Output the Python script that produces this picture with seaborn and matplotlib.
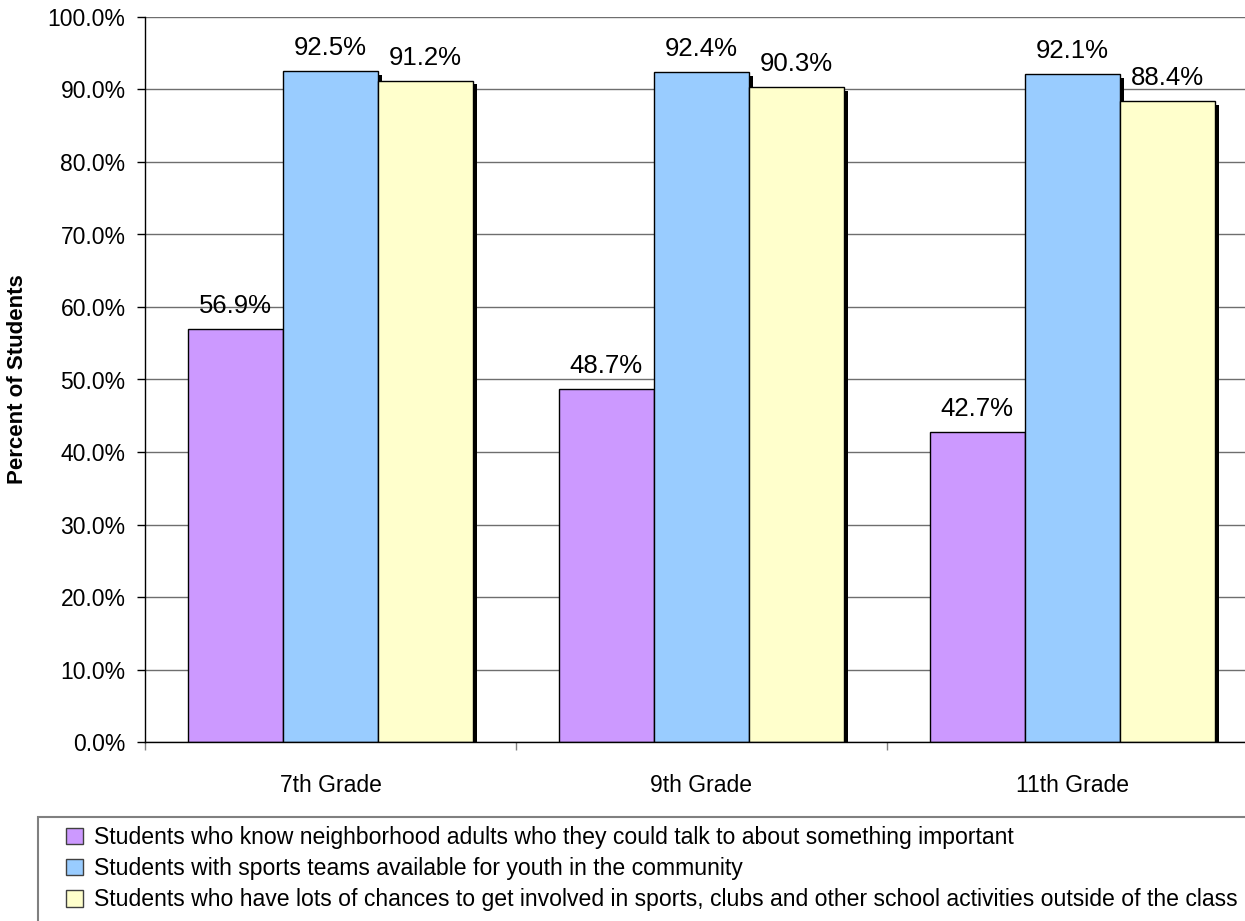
import matplotlib
matplotlib.use('Agg')
import matplotlib.pyplot as plt
import matplotlib.patheffects as pe
from matplotlib.patches import Patch, Rectangle
from matplotlib.ticker import FixedLocator
import numpy as np
import pandas as pd
import seaborn as sns

# ------------------------------------------------------------------
# Data
# ------------------------------------------------------------------
grades = ['7th Grade', '9th Grade', '11th Grade']
series_names = [
    'Students who know neighborhood adults who they could talk to about something important',
    'Students with sports teams available for youth in the community',
    'Students who have lots of chances to get involved in sports, clubs and other school activities outside of the class',
]
neighborhood_adults = [56.9, 48.7, 42.7]
sports_teams = [92.5, 92.4, 92.1]
school_activities = [91.2, 90.3, 88.4]
colors = ['#CC99FF', '#99CCFF', '#FFFFCC']

df = pd.DataFrame({
    'grade': grades * 3,
    'series': [s for s in series_names for _ in grades],
    'value': neighborhood_adults + sports_teams + school_activities,
})

sns.set_theme(style='white')
plt.rcParams['font.family'] = ['Liberation Sans', 'DejaVu Sans']
plt.rcParams['text.color'] = 'black'
plt.rcParams['xtick.color'] = 'black'
plt.rcParams['ytick.color'] = 'black'
plt.rcParams['axes.labelcolor'] = 'black'

fig = plt.figure(figsize=(12.45, 9.21), dpi=100)
ax = fig.add_axes([145 / 1245, 1 - 742 / 921, (1258 - 145) / 1245, 725 / 921])

sns.barplot(
    data=df, x='grade', y='value', hue='series',
    order=grades, hue_order=series_names,
    palette=colors, saturation=1, width=0.77, gap=0,
    edgecolor='black', linewidth=1.0,
    legend=False, ax=ax,
)

# drop shadow on each bar (only visible on the right-hand side)
shadow = [pe.SimplePatchShadow(offset=(2.5, -2.5), shadow_rgbFace='black', alpha=1.0),
          pe.Normal()]
for bar in ax.patches:
    bar.set_path_effects(shadow)

for cont in ax.containers:
    ax.bar_label(cont, labels=[f'{v:.1f}%' for v in cont.datavalues],
                 padding=8, fontsize=18.5, color='black')

# axes styling
ax.set_ylim(0, 100)
ax.set_xlim(-0.5, 2.5)
ax.set_yticks(np.arange(0, 101, 10))
ax.set_yticklabels([f'{v:.1f}%' for v in np.arange(0, 101, 10)])
ax.yaxis.grid(True, color='#6e6e6e', linewidth=1)
ax.set_axisbelow(True)
for side in ['top', 'right']:
    ax.spines[side].set_visible(False)
for side in ['left', 'bottom']:
    ax.spines[side].set_color('black')
    ax.spines[side].set_linewidth(1)

ax.tick_params(axis='y', which='major', left=True, length=6, width=1,
               color='black', pad=8, labelsize=16.5)
ax.tick_params(axis='x', which='major', bottom=False, pad=17, labelsize=16.5)
ax.xaxis.set_minor_locator(FixedLocator([-0.5, 0.5, 1.5, 2.5]))
ax.tick_params(axis='x', which='minor', bottom=True, length=6, width=1,
               color='#808080')

ax.set_xlabel('')
ax.set_ylabel('Percent of Students', fontsize=16, fontweight='bold', labelpad=14)

# legend box runs off the right edge of the figure
fig.add_artist(Rectangle((38 / 1245, 1 - 940 / 921), (1300 - 38) / 1245, 123 / 921,
                         transform=fig.transFigure, facecolor='white',
                         edgecolor='#808080', linewidth=1.5))
handles = [Patch(facecolor=c, edgecolor='#404040', linewidth=1) for c in colors]
leg = fig.legend(
    handles, series_names,
    loc='upper left', bbox_to_anchor=(66 / 1245, 1 - 826 / 921),
    fontsize=16.6, frameon=False,
    handlelength=0.75, handleheight=0.75, handletextpad=0.45,
    labelspacing=0.35, borderpad=0, borderaxespad=0,
)

fig.savefig('out.png', dpi=100)
